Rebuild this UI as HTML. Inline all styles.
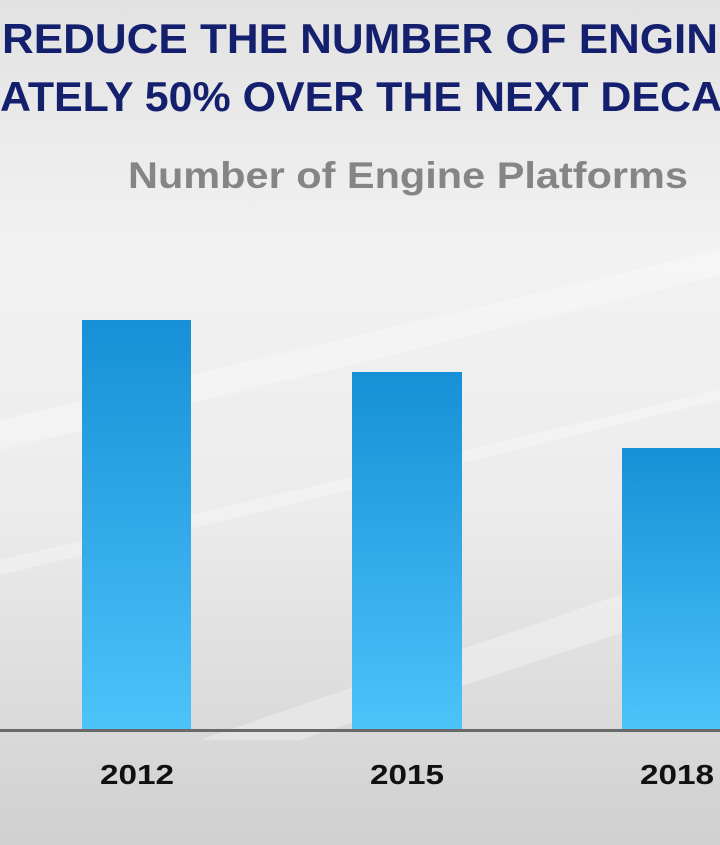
<!DOCTYPE html>
<html><head><meta charset="utf-8"><style>
html,body{margin:0;padding:0;width:720px;height:845px;overflow:hidden}
</style></head><body>
<svg width="720" height="845" viewBox="0 0 720 845" xmlns="http://www.w3.org/2000/svg">
<defs>
<linearGradient id="bg" x1="0" y1="0" x2="0" y2="1">
<stop offset="0" stop-color="#e2e2e2"/><stop offset="0.3" stop-color="#f2f2f2"/><stop offset="0.6" stop-color="#ececec"/><stop offset="1" stop-color="#d0d0d0"/>
</linearGradient>
<linearGradient id="bar" x1="0" y1="0" x2="0" y2="1">
<stop offset="0" stop-color="#1690d6"/><stop offset="1" stop-color="#4dc3fa"/>
</linearGradient>
</defs>
<rect width="720" height="845" fill="url(#bg)"/>
<g fill="#ffffff" opacity="0.3">
<polygon points="0,420 720,250 720,275 0,450"/>
<polygon points="0,560 720,390 720,400 0,575"/>
<polygon points="200,740 720,560 720,600 300,740"/>
</g>
<g font-family="'Liberation Sans', sans-serif" font-weight="bold">
<text x="2" y="53" font-size="42" fill="#14206e" textLength="716" lengthAdjust="spacingAndGlyphs">REDUCE THE NUMBER OF ENGIN</text>
<text x="0" y="111" font-size="42" fill="#14206e" textLength="722" lengthAdjust="spacingAndGlyphs">ATELY 50% OVER THE NEXT DECA</text>
<text x="128" y="188" font-size="37" fill="#858585" textLength="560" lengthAdjust="spacingAndGlyphs">Number of Engine Platforms</text>
</g>
<rect x="82" y="320" width="109" height="410" fill="url(#bar)"/>
<rect x="352" y="372" width="110" height="358" fill="url(#bar)"/>
<rect x="622" y="448" width="98" height="282" fill="url(#bar)"/>
<rect x="0" y="729" width="720" height="3" fill="#6a6a6a"/>
<g font-family="'Liberation Sans', sans-serif" font-weight="bold" font-size="28" fill="#111">
<text x="100" y="784" textLength="74" lengthAdjust="spacingAndGlyphs">2012</text>
<text x="370" y="784" textLength="74" lengthAdjust="spacingAndGlyphs">2015</text>
<text x="640" y="784" textLength="74" lengthAdjust="spacingAndGlyphs">2018</text>
</g>
</svg>
</body></html>
